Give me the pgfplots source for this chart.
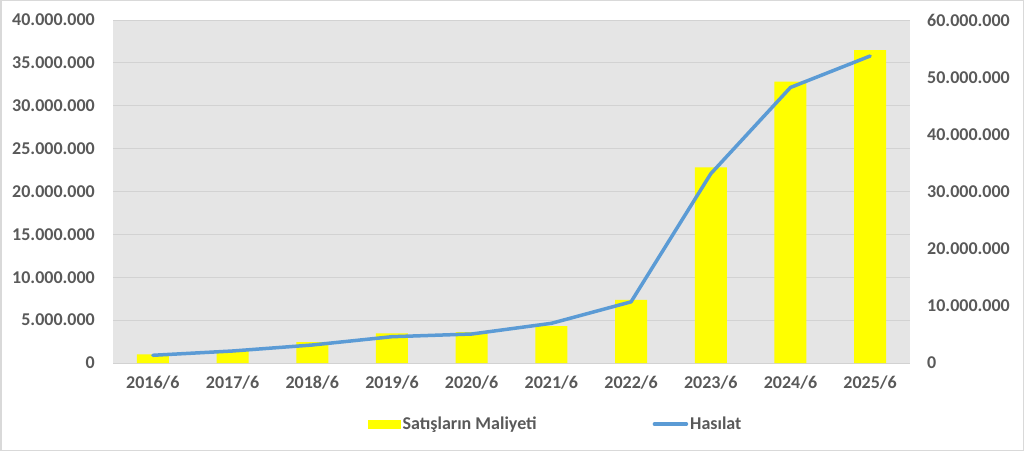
\documentclass[border=0pt]{standalone}
\usepackage{pgfplots}
\pgfplotsset{compat=1.18}
\usepackage{fontspec}
\setmainfont{Carlito}

\definecolor{costyellow}{HTML}{FFFF00}
\definecolor{revblue}{HTML}{5B9BD5}
\definecolor{labelgray}{HTML}{595959}
\definecolor{plotbg}{HTML}{E5E5E5}
\definecolor{gridgray}{HTML}{D2D2D2}
\definecolor{framegray}{HTML}{D9D9D9}

% Satışların Maliyeti (left axis)
\pgfplotstableread{
x cost
0 1010000
1 1500000
2 2430000
3 3460000
4 3600000
5 4300000
6 7350000
7 22800000
8 32800000
9 36500000
}\costtable

% Hasılat (right axis)
\pgfplotstableread{
x revenue
0 1350000
1 2100000
2 3150000
3 4600000
4 5070000
5 6940000
6 10700000
7 33100000
8 48200000
9 53700000
}\revtable

\newcommand{\lblfont}{\bfseries\fontsize{18}{21}\selectfont}

\pgfplotsset{
  common/.style={
    scale only axis,
    width=797pt, height=343pt,
    at={(113pt,88pt)}, anchor=south west,
    xmin=-0.5, xmax=9.5,
    axis line style={draw=none},
    tick style={draw=none},
    scaled y ticks=false,
    tick label style={font=\lblfont, text=labelgray, inner sep=0pt},
    /pgf/number format/.cd, fixed, precision=0, 1000 sep={.}, assume math mode=true,
  },
}

\begin{document}
\begin{tikzpicture}
\draw[framegray, line width=1.5pt] (0.75pt,0.75pt) rectangle (1023.25pt,450.25pt);

\begin{axis}[
  common,
  ymin=0, ymax=40000000,
  ytick={0,5000000,...,40000000},
  ymajorgrids,
  grid style={gridgray, line width=0.9pt},
  axis background/.style={fill=plotbg},
  xtick={0,...,9},
  xticklabels={2016/6,2017/6,2018/6,2019/6,2020/6,2021/6,2022/6,2023/6,2024/6,2025/6},
  xticklabel shift=13pt,
  yticklabel shift=18pt,
]
\addplot[ybar, bar width=32pt, bar shift=0pt, fill=costyellow, draw=none]
  table[x=x, y=cost] {\costtable};
\end{axis}

\begin{axis}[
  common,
  ymin=0, ymax=60000000,
  ytick={0,10000000,...,60000000},
  xtick=\empty,
  yticklabel pos=right,
  yticklabel shift=17pt,
  legend columns=2,
  legend style={
    at={(axis description cs:0.32,-0.178)}, anchor=west,
    draw=none, fill=none, inner sep=0pt,
    font=\lblfont, text=labelgray,
    /tikz/every even column/.append style={column sep=114pt},
  },
]
\addlegendimage{legend image code/.code={\fill[costyellow] (0pt,-4pt) rectangle (32pt,4pt);}}
\addlegendentry{Satışların Maliyeti}
\addplot[revblue, line width=3.5pt, line cap=round, line join=round,
  legend image code/.code={\draw[revblue, line width=3.5pt, line cap=round] (0pt,0pt) -- (32pt,0pt);}]
  table[x=x, y=revenue] {\revtable};
\addlegendentry{Hasılat}
\end{axis}
\end{tikzpicture}
\end{document}
